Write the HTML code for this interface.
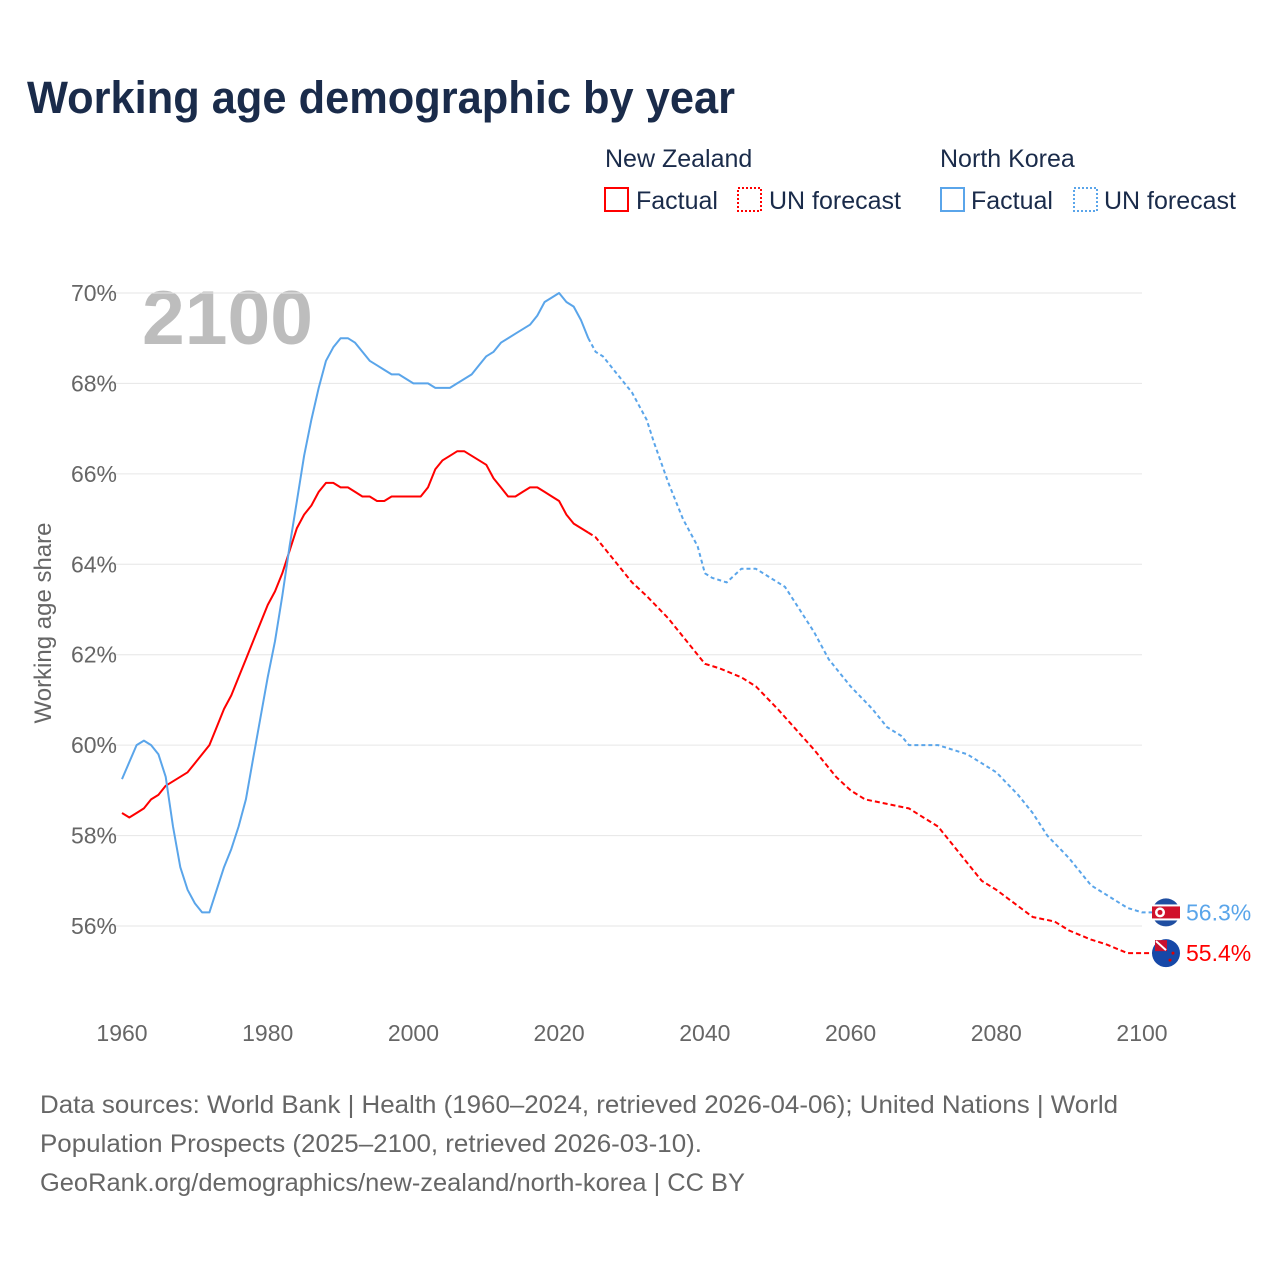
<!DOCTYPE html>
<html><head><meta charset="utf-8"><style>
body{margin:0;background:#fff;}
svg text{font-family:"Liberation Sans",sans-serif;}
</style></head><body>
<svg id="chart" width="1280" height="1280" viewBox="0 0 1280 1280" xmlns="http://www.w3.org/2000/svg">
<rect width="1280" height="1280" fill="#fff"/>
<text x="27" y="113" font-size="45" font-weight="bold" fill="#1a2b4a" textLength="708" lengthAdjust="spacingAndGlyphs">Working age demographic by year</text>
<g font-size="25" fill="#1a2b4a">
<text x="605" y="167">New Zealand</text>
<text x="940" y="167">North Korea</text>
<g><rect x="605" y="188" width="23" height="23" fill="none" stroke="#ff0000" stroke-width="2"/><text x="636" y="209">Factual</text></g>
<g><rect x="738" y="188" width="23" height="23" fill="none" stroke="#ff0000" stroke-width="2" stroke-dasharray="2,2"/><text x="769" y="209">UN forecast</text></g>
<g><rect x="941" y="188" width="23" height="23" fill="none" stroke="#5aa5ea" stroke-width="2"/><text x="971" y="209">Factual</text></g>
<g><rect x="1074" y="188" width="23" height="23" fill="none" stroke="#5aa5ea" stroke-width="2" stroke-dasharray="2,2"/><text x="1104" y="209">UN forecast</text></g>
</g>
<text x="142" y="344" font-size="76" font-weight="bold" fill="#bdbdbd" textLength="171" lengthAdjust="spacingAndGlyphs">2100</text>
<text transform="translate(51,623) rotate(-90)" text-anchor="middle" font-size="24" fill="#666">Working age share</text>
<g id="grid"></g><g id="ticks"></g><g id="series"></g>
<g font-size="25" fill="#666">
<text x="40" y="1113" textLength="1078" lengthAdjust="spacingAndGlyphs">Data sources: World Bank | Health (1960–2024, retrieved 2026-04-06); United Nations | World</text>
<text x="40" y="1152" textLength="662" lengthAdjust="spacingAndGlyphs">Population Prospects (2025–2100, retrieved 2026-03-10).</text>
<text x="40" y="1191" textLength="705" lengthAdjust="spacingAndGlyphs">GeoRank.org/demographics/new-zealand/north-korea | CC BY</text>
</g>
</svg>
<script>
const yTicks=[56,58,60,62,64,66,68,70];
const xTicks=[1960,1980,2000,2020,2040,2060,2080,2100];
const nzYears=[1960,1961,1962,1963,1964,1965,1966,1967,1968,1969,1970,1971,1972,1973,1974,1975,1976,1977,1978,1979,1980,1981,1982,1983,1984,1985,1986,1987,1988,1989,1990,1991,1992,1993,1994,1995,1996,1997,2001,2002,2003,2004,2005,2006,2007,2008,2009,2010,2011,2012,2013,2014,2015,2016,2017,2018,2019,2020,2021,2022,2023,2024];
const nzValues=[58.5,58.4,58.5,58.6,58.8,58.9,59.1,59.2,59.3,59.4,59.6,59.8,60.0,60.4,60.8,61.1,61.5,61.9,62.3,62.7,63.1,63.4,63.8,64.3,64.8,65.1,65.3,65.6,65.8,65.8,65.7,65.7,65.6,65.5,65.5,65.4,65.4,65.5,65.5,65.7,66.1,66.3,66.4,66.5,66.5,66.4,66.3,66.2,65.9,65.7,65.5,65.5,65.6,65.7,65.7,65.6,65.5,65.4,65.1,64.9,64.8,64.7];
const nzFcYears=[2024,2025,2030,2032,2035,2040,2042,2045,2047,2050,2055,2058,2060,2062,2065,2068,2070,2072,2075,2078,2080,2085,2088,2090,2093,2095,2098,2100];
const nzFcValues=[64.7,64.6,63.6,63.3,62.8,61.8,61.7,61.5,61.3,60.8,59.9,59.3,59.0,58.8,58.7,58.6,58.4,58.2,57.6,57.0,56.8,56.2,56.1,55.9,55.7,55.6,55.4,55.4];
const nkYears=[1960,1962,1963,1964,1965,1966,1967,1968,1969,1970,1971,1972,1973,1974,1975,1976,1977,1978,1979,1980,1981,1982,1983,1984,1985,1986,1987,1988,1989,1990,1991,1992,1993,1994,1995,1996,1997,1998,1999,2000,2002,2003,2005,2006,2008,2009,2010,2011,2012,2014,2016,2017,2018,2019,2020,2021,2022,2023,2024];
const nkValues=[59.25,60.0,60.1,60.0,59.8,59.3,58.2,57.3,56.8,56.5,56.3,56.3,56.8,57.3,57.7,58.2,58.8,59.7,60.6,61.5,62.3,63.3,64.4,65.4,66.4,67.2,67.9,68.5,68.8,69.0,69.0,68.9,68.7,68.5,68.4,68.3,68.2,68.2,68.1,68.0,68.0,67.9,67.9,68.0,68.2,68.4,68.6,68.7,68.9,69.1,69.3,69.5,69.8,69.9,70.0,69.8,69.7,69.4,69.0];
const nkFcYears=[2024,2025,2026,2028,2030,2032,2033,2035,2037,2039,2040,2041,2043,2045,2047,2049,2051,2053,2055,2057,2058,2060,2063,2065,2067,2068,2072,2074,2076,2078,2080,2083,2085,2087,2090,2093,2095,2098,2100];
const nkFcValues=[69.0,68.7,68.6,68.2,67.8,67.2,66.7,65.8,65.0,64.4,63.8,63.7,63.6,63.9,63.9,63.7,63.5,63.0,62.5,61.9,61.7,61.3,60.8,60.4,60.2,60.0,60.0,59.9,59.8,59.6,59.4,58.9,58.5,58.0,57.5,56.9,56.7,56.4,56.3];
const endLabels=["56.3%","55.4%"];

const NS="http://www.w3.org/2000/svg";
const xS=yr=>122+(yr-1960)*1020/140;
const yS=v=>293+(70-v)*633/14;
function mk(tag,attrs,parent){const e=document.createElementNS(NS,tag);for(const k in attrs)e.setAttribute(k,attrs[k]);parent.appendChild(e);return e;}
const grid=document.getElementById('grid'),ticks=document.getElementById('ticks'),series=document.getElementById('series');
yTicks.forEach(v=>{
 const l=mk('line',{x1:95,x2:1142,y1:yS(v),y2:yS(v),stroke:'#e6e6e6','stroke-width':1},grid);
 
 
 const t=mk('text',{x:117,y:yS(v)+8,'text-anchor':'end','font-size':23,fill:'#666'},ticks);
 t.textContent=v+'%';
 
 
});
xTicks.forEach(yr=>{
 const t=mk('text',{x:xS(yr),y:1041,'text-anchor':'middle','font-size':23,fill:'#666'},ticks);
 t.textContent=yr;
 
 
});
function line(years,vals,color,dash,name,extend){
 let pts=years.map((y,i)=>xS(y).toFixed(1)+','+yS(vals[i]).toFixed(1));
 if(extend)pts.push('1155,'+yS(vals[vals.length-1]).toFixed(1));
 const p=mk('polyline',{points:pts.join(' '),fill:'none',stroke:color,'stroke-width':2,'stroke-linejoin':'round'},series);
 if(dash)p.setAttribute('stroke-dasharray',dash);
 
 
}
line(nzYears,nzValues,'#ff0000',null,'nz-factual-line');
line(nzFcYears,nzFcValues,'#ff0000','5,3','nz-forecast-line',true);
line(nkYears,nkValues,'#5aa5ea',null,'nk-factual-line');
line(nkFcYears,nkFcValues,'#5aa5ea','4,3','nk-forecast-line',true);
const nkY=yS(nkFcValues[nkFcValues.length-1]),nzY=yS(nzFcValues[nzFcValues.length-1]);
const nkG=mk('g',{},series);


mk('circle',{cx:1166,cy:nkY,r:14,fill:'#1f4ea1'},nkG);
mk('rect',{x:1152,y:nkY-8,width:28,height:16,fill:'#fff'},nkG);
mk('rect',{x:1152,y:nkY-6,width:28,height:12,fill:'#d0112b'},nkG);
mk('circle',{cx:1160,cy:nkY,r:5,fill:'#fff'},nkG);
mk('circle',{cx:1160,cy:nkY,r:2.5,fill:'#d0112b'},nkG);
const nzG=mk('g',{},series);


mk('circle',{cx:1166,cy:nzY,r:14,fill:'#1648a8'},nzG);
mk('rect',{x:1155,y:nzY-13,width:12,height:11,fill:'#c8102e'},nzG);
mk('line',{x1:1156,y1:nzY-12,x2:1166,y2:nzY-3,stroke:'#fff','stroke-width':2},nzG);
mk('circle',{cx:1173,cy:nzY,r:1.5,fill:'#d00'},nzG);
mk('circle',{cx:1170,cy:nzY+7,r:1.5,fill:'#d00'},nzG);
[[nkY,'#5aa5ea',0,'nk-end-label'],[nzY,'#ff0000',1,'nz-end-label']].forEach(a=>{
 const t=mk('text',{x:1186,y:a[0]+8,'font-size':23,fill:a[1]},series);
 t.textContent=endLabels[a[2]];
 
 
});
</script>
</body></html>
